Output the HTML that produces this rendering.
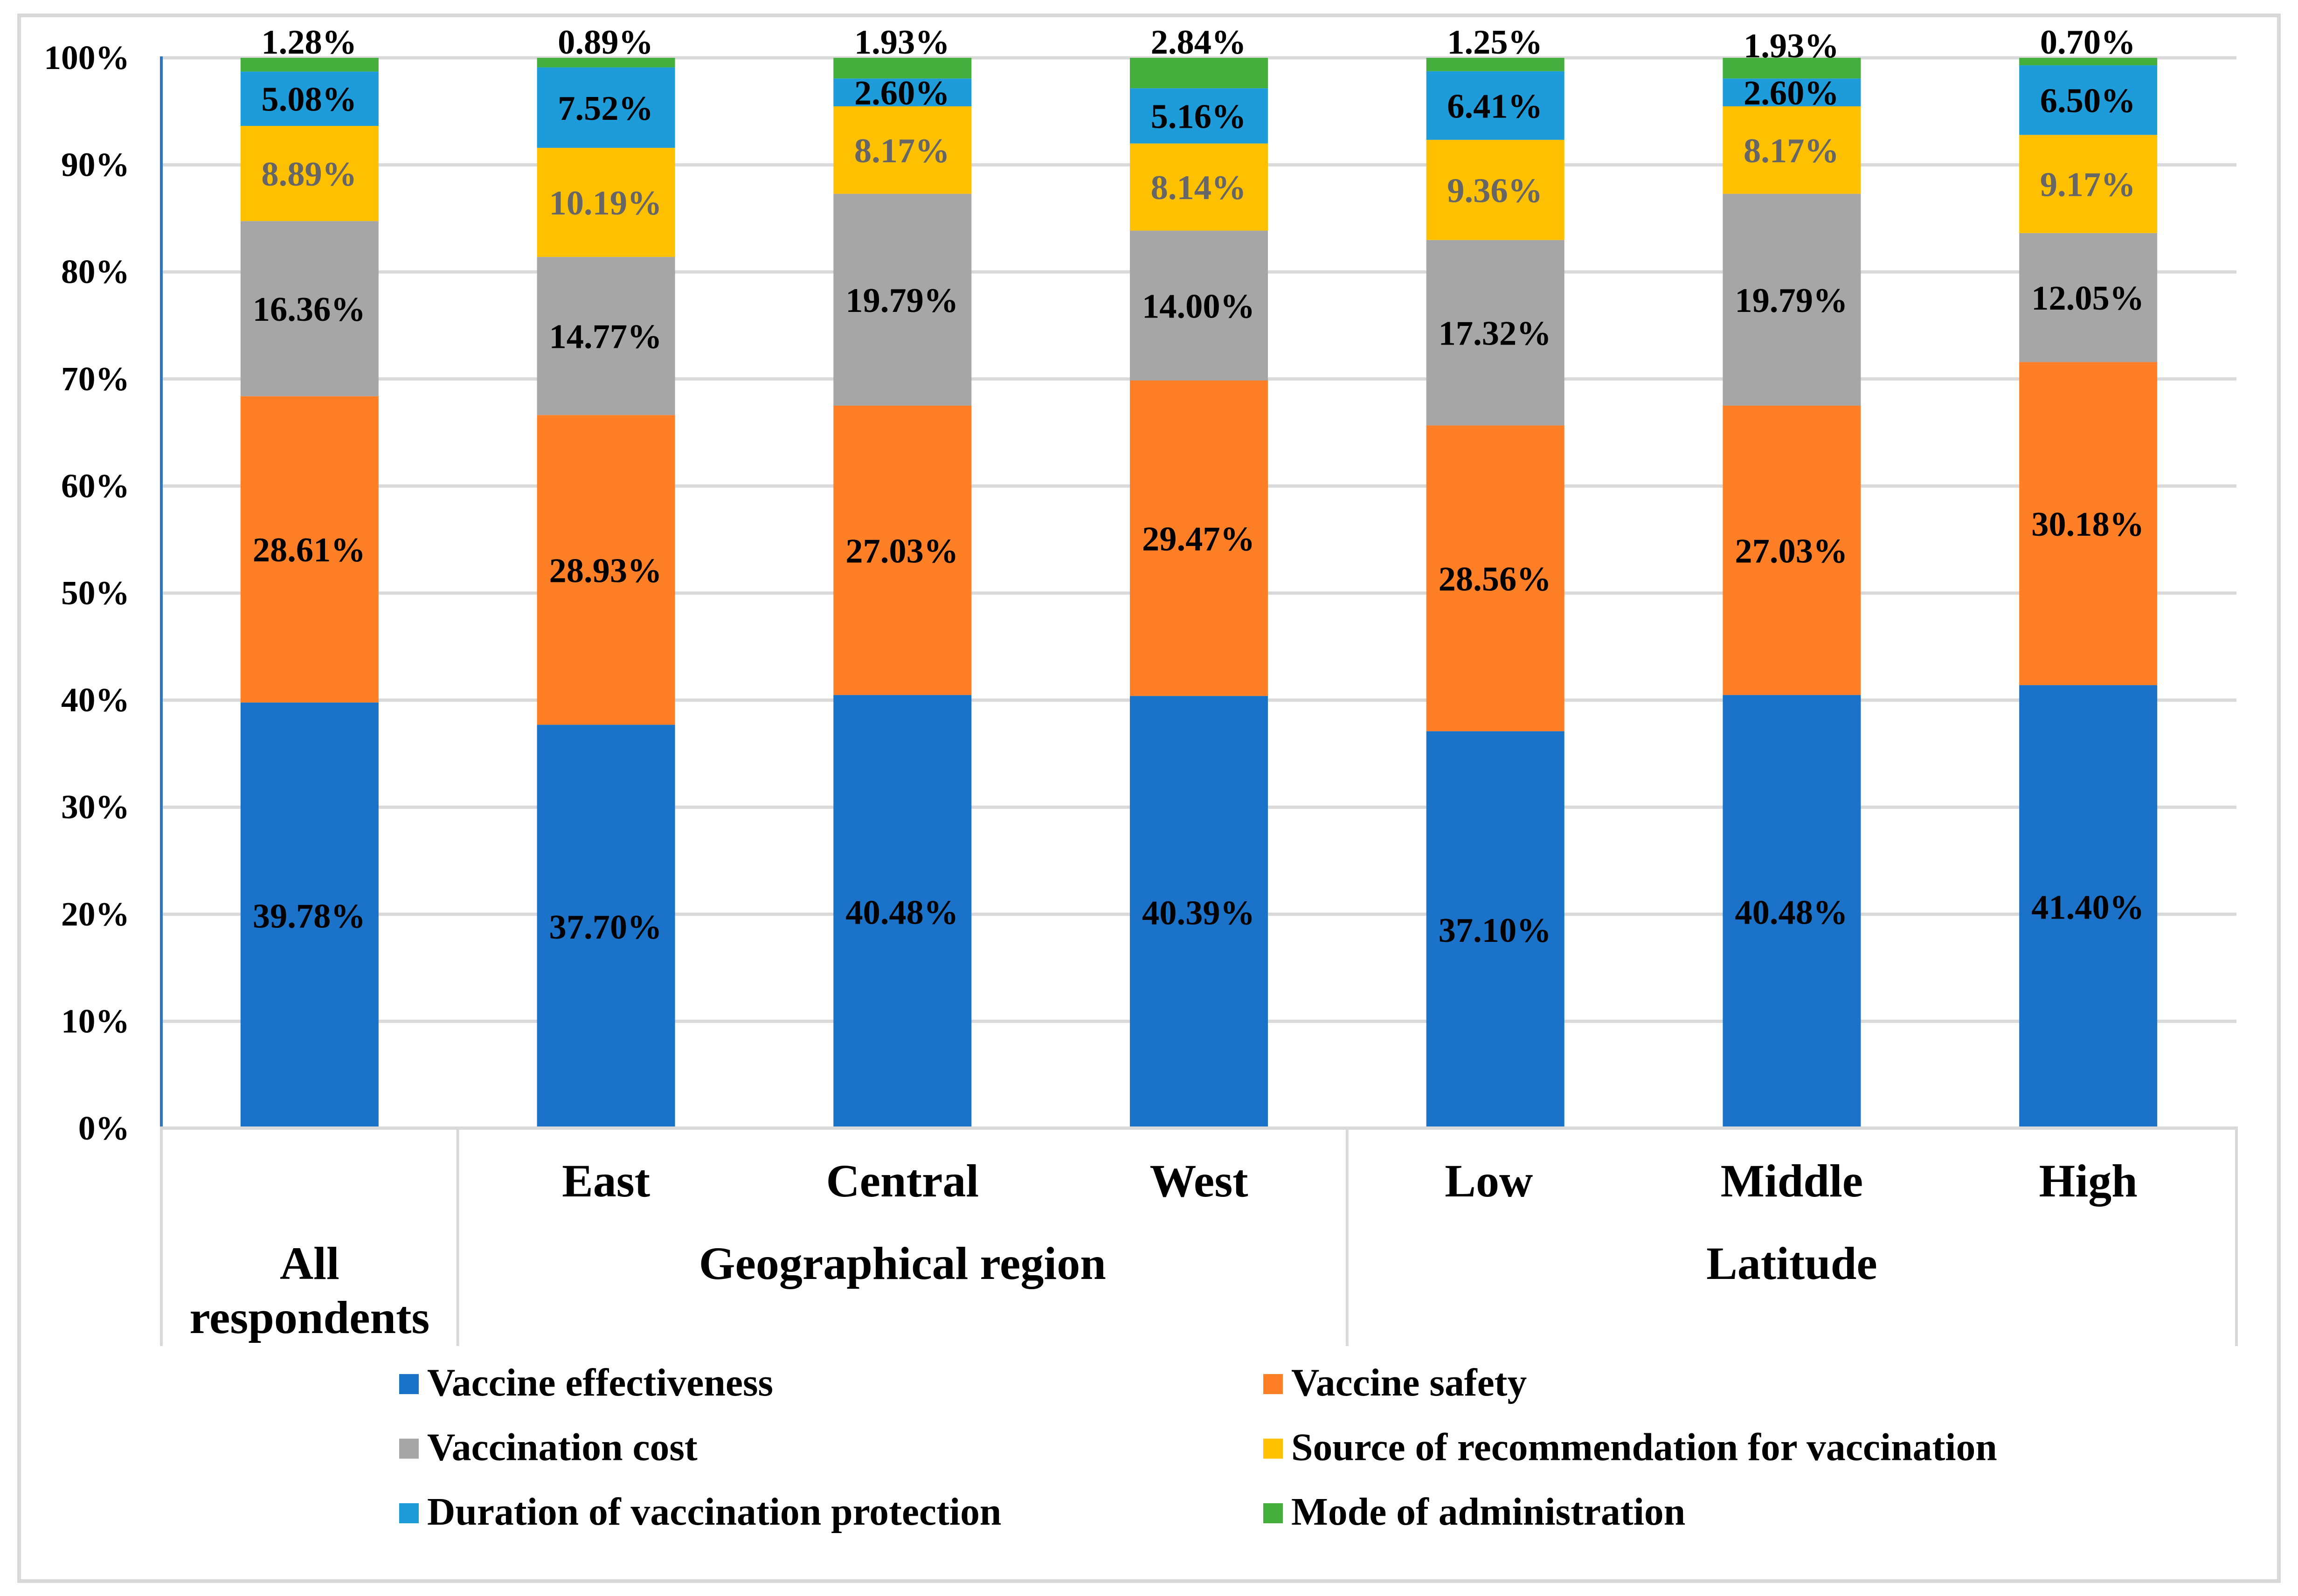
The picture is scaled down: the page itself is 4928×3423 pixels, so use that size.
<!DOCTYPE html>
<html lang="en">
<head>
<meta charset="utf-8">
<title>Vaccine attribute importance by respondent group</title>
<style>
html,body{margin:0;padding:0;background:#fff;width:4928px;height:3423px;overflow:hidden}
svg{display:block}
text{font-family:"Liberation Serif",serif;font-weight:700;fill:#000}
</style>
</head>
<body>
<svg id="chart" xmlns="http://www.w3.org/2000/svg" width="4928" height="3423" viewBox="0 0 4928 3423">
  <rect x="0" y="0" width="4928" height="3423" fill="#fff"/>
  <rect x="41" y="33" width="4846" height="3358" fill="#fff" stroke="#d9d9d9" stroke-width="8"/>
  <g id="grid"></g>
  <g id="ticks"></g>
  <g id="bars"></g>
  <g id="axes"></g>
  <g id="labels"></g>
  <g id="cats"></g>
  <g id="legend"></g>
</svg>
<script>
const categories = ["All respondents", "East", "Central", "West", "Low", "Middle", "High"];
const seriesNames = ["Vaccine effectiveness", "Vaccine safety", "Vaccination cost", "Source of recommendation for vaccination", "Duration of vaccination protection", "Mode of administration"];
const effectiveness = [39.78, 37.70, 40.48, 40.39, 37.10, 40.48, 41.40];
const safety = [28.61, 28.93, 27.03, 29.47, 28.56, 27.03, 30.18];
const cost = [16.36, 14.77, 19.79, 14.00, 17.32, 19.79, 12.05];
const recommendation = [8.89, 10.19, 8.17, 8.14, 9.36, 8.17, 9.17];
const duration = [5.08, 7.52, 2.60, 5.16, 6.41, 2.60, 6.50];
const administration = [1.28, 0.89, 1.93, 2.84, 1.25, 1.93, 0.70];
const yTicks = [0, 10, 20, 30, 40, 50, 60, 70, 80, 90, 100];

const allSeries = [effectiveness, safety, cost, recommendation, duration, administration];
const colors = ["#1a73c9", "#ff7f27", "#a6a6a6", "#ffc000", "#1e9bd9", "#44af3c"];
const labelColors = ["#000", "#000", "#000", "#666", "#000", "#000"];
const slugs = ["effectiveness", "safety", "cost", "recommendation", "duration", "administration"];

const NS = "http://www.w3.org/2000/svg";
const plotLeft = 346, plotRight = 4796, yTop = 124, yBottom = 2420;
const step = (plotRight - plotLeft) / categories.length;
const barW = 296;
const xScale = i => plotLeft + step * (i + 0.5);
const yScale = v => yBottom - (v / 100) * (yBottom - yTop);

function make(tag, parent, attrs, txt) {
  const el = document.createElementNS(NS, tag);
  for (const k in attrs) el.setAttribute(k, attrs[k]);
  if (txt !== undefined) el.textContent = txt;
  document.getElementById(parent).appendChild(el);
  return el;
}

// gridlines and y tick labels
yTicks.forEach(t => {
  if (t > 0) {
    const g = make("rect", "grid", {x: plotLeft, y: yScale(t) - 3.5, width: plotRight - plotLeft, height: 7, fill: "#d9d9d9"});
    
    
  }
  const l = make("text", "ticks", {x: 278, y: yScale(t) + 24, "text-anchor": "end", "font-size": 73.5}, t + "%");
  
  
});

// stacked bars and data labels
categories.forEach((c, i) => {
  let cum = 0;
  allSeries.forEach((s, k) => {
    const v = s[i];
    const top = yScale(cum + v), bot = yScale(cum);
    const r = make("rect", "bars", {x: xScale(i) - barW / 2, y: top, width: barW, height: bot - top, fill: colors[k]});
    
    
    let by = (top + bot) / 2 + 26;
    if (k === allSeries.length - 1) by = (c === "Middle") ? yTop - 1 : yTop - 9;
    const t = make("text", "labels", {x: xScale(i) - 1, y: by, "text-anchor": "middle", "font-size": 74.5, fill: labelColors[k]}, v.toFixed(2) + "%");
    t.setAttribute('style', 'fill:' + labelColors[k]);
    
    
    cum += v;
  });
});

// axes and group separators
const yAxis = make("rect", "axes", {x: 343, y: yTop - 3, width: 6, height: yBottom - yTop + 3, fill: "#2e75c6"});


const xAxis = make("rect", "axes", {x: 343, y: 2416, width: plotRight - 343 + 3, height: 7, fill: "#d9d9d9"});


[0, 1, 4, 7].forEach(n => {
  const s = make("rect", "axes", {x: plotLeft + step * n - 3, y: 2420, width: 6, height: 467, fill: "#d9d9d9"});
  
  
});

// category labels
categories.slice(1).forEach((c, j) => {
  const dx = c === "Low" ? -14 : 0;
  const t = make("text", "cats", {x: xScale(j + 1) + dx, y: 2566, "text-anchor": "middle", "font-size": 100}, c);
  
  
});
const g1 = make("text", "cats", {x: xScale(0), y: 2743, "text-anchor": "middle", "font-size": 100}, "All");


const g2 = make("text", "cats", {x: xScale(0), y: 2859, "text-anchor": "middle", "font-size": 100}, "respondents");


const g3 = make("text", "cats", {x: xScale(2), y: 2743, "text-anchor": "middle", "font-size": 100}, "Geographical region");


const g4 = make("text", "cats", {x: xScale(5), y: 2743, "text-anchor": "middle", "font-size": 100}, "Latitude");



// legend
seriesNames.forEach((n, k) => {
  const col = k % 2, row = Math.floor(k / 2);
  const sx = col === 0 ? 856 : 2709;
  const sy = 2947 + row * 138.5;
  const sw = make("rect", "legend", {x: sx, y: sy, width: 42, height: 43, fill: colors[k]});
  
  
  const t = make("text", "legend", {x: sx + 60, y: sy + 46, "font-size": 83.6}, n);
  
  
});
</script>
</body>
</html>
